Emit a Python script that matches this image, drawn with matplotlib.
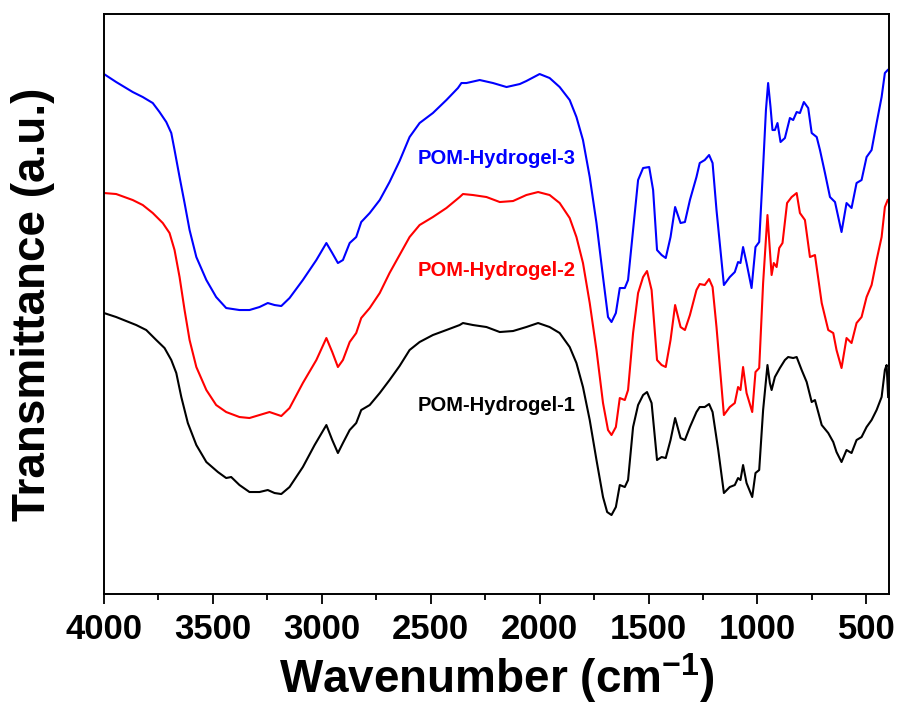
import numpy as np
import matplotlib
matplotlib.use("Agg")
from matplotlib import pyplot as plt
import matplotlib.ticker as ticker

plt.rcParams['font.family'] = ['Liberation Sans', 'DejaVu Sans']
plt.rcParams['font.weight'] = 'bold'
plt.rcParams['mathtext.fontset'] = 'custom'
plt.rcParams['mathtext.rm'] = 'Liberation Sans:bold'
plt.rcParams['mathtext.bf'] = 'Liberation Sans:bold'
plt.rcParams['mathtext.default'] = 'bf'

# POM-Hydrogel-3 (blue)
wn_3 = [4000, 3944, 3868, 3822, 3776, 3745, 3714, 3691, 3676, 3653, 3630, 3607, 3576, 3530,
        3485, 3439, 3378, 3332, 3286, 3248, 3217, 3186, 3148, 3087, 3025, 2979, 2952, 2926,
        2903, 2872, 2842, 2819, 2780, 2734, 2689, 2643, 2597, 2551, 2490, 2428, 2375, 2359,
        2336, 2275, 2214, 2152, 2091, 2061, 2000, 1954, 1908, 1862, 1831, 1801, 1770, 1739,
        1709, 1686, 1670, 1650, 1632, 1609, 1594, 1571, 1548, 1525, 1497, 1479, 1461, 1440,
        1421, 1399, 1378, 1353, 1333, 1310, 1280, 1265, 1242, 1222, 1206, 1188, 1154, 1127,
        1104, 1089, 1078, 1066, 1050, 1027, 1009, 992, 974, 961, 951, 940, 931, 920, 908,
        894, 874, 851, 836, 820, 805, 787, 767, 751, 728, 713, 690, 667, 644, 614, 591, 568,
        545, 522, 499, 476, 453, 430, 415, 402]
t_3 = [520, 512, 502, 497, 491, 482, 472, 461, 444, 417, 391, 364, 337, 314,
       297, 286, 284, 284, 287, 291, 289, 288, 296, 314, 334, 351, 341, 331,
       334, 351, 357, 372, 381, 394, 412, 433, 457, 471, 481, 494, 506, 511,
       511, 514, 511, 507, 510, 513, 520, 516, 507, 494, 477, 454, 417, 371,
       317, 277, 272, 281, 306, 306, 314, 364, 414, 426, 427, 404, 344, 339,
       336, 357, 387, 371, 372, 394, 417, 431, 434, 439, 431, 384, 309, 317,
       322, 332, 331, 347, 331, 306, 347, 352, 427, 484, 511, 487, 464, 464, 471,
       452, 456, 476, 474, 482, 481, 492, 486, 461, 457, 444, 421, 397, 392, 362, 391, 386,
       411, 414, 437, 444, 471, 497, 521, 524]

# POM-Hydrogel-2 (red)
wn_2 = [4000, 3944, 3868, 3822, 3776, 3730, 3699, 3676, 3653, 3630, 3607, 3576, 3530, 3485,
        3439, 3378, 3332, 3286, 3240, 3186, 3148, 3087, 3025, 2979, 2952, 2926, 2903, 2872,
        2842, 2819, 2780, 2734, 2689, 2643, 2597, 2551, 2490, 2428, 2367, 2352, 2306, 2244,
        2183, 2122, 2061, 2007, 1954, 1908, 1862, 1831, 1801, 1770, 1739, 1709, 1686, 1670,
        1650, 1632, 1609, 1594, 1571, 1548, 1525, 1507, 1486, 1461, 1440, 1421, 1399, 1378,
        1353, 1333, 1310, 1280, 1265, 1242, 1222, 1206, 1188, 1154, 1127, 1104, 1089, 1078,
        1066, 1050, 1024, 1009, 992, 974, 954, 943, 935, 925, 912, 900, 885, 864, 843, 820,
        805, 782, 759, 736, 705, 675, 652, 637, 614, 591, 568, 545, 522, 499, 476, 453, 430,
        415, 402]
t_2 = [401, 400, 394, 389, 381, 371, 361, 344, 317, 284, 254, 227, 204, 189,
       182, 177, 176, 179, 182, 178, 186, 211, 234, 256, 242, 227, 234, 252,
       261, 276, 286, 301, 321, 339, 357, 369, 377, 386, 397, 400, 399, 397,
       392, 393, 399, 402, 399, 391, 376, 357, 331, 291, 244, 191, 164, 159,
       167, 196, 194, 204, 261, 301, 317, 323, 304, 234, 229, 227, 254, 289,
       267, 264, 279, 304, 310, 309, 315, 307, 267, 179, 187, 191, 207, 204,
       227, 201, 182, 222, 226, 311, 379, 344, 319, 331, 327, 346, 351, 391, 397, 401,
       381, 374, 337, 339, 291, 264, 261, 244, 226, 256, 251, 271, 277, 297, 309, 334, 357,
       387, 394]

# POM-Hydrogel-1 (black)
wn_1 = [4000, 3944, 3898, 3852, 3806, 3760, 3722, 3691, 3668, 3645, 3615, 3576, 3530, 3477,
        3439, 3416, 3378, 3332, 3286, 3248, 3217, 3186, 3148, 3087, 3033, 2979, 2952, 2926,
        2903, 2872, 2842, 2819, 2780, 2734, 2689, 2643, 2597, 2551, 2490, 2428, 2367, 2352,
        2306, 2244, 2183, 2122, 2061, 2007, 1954, 1908, 1862, 1831, 1801, 1770, 1739, 1709,
        1690, 1670, 1650, 1632, 1609, 1594, 1571, 1548, 1525, 1507, 1486, 1461, 1440, 1421,
        1399, 1378, 1353, 1333, 1310, 1280, 1265, 1242, 1222, 1206, 1180, 1154, 1127, 1104,
        1089, 1078, 1066, 1050, 1024, 1009, 992, 974, 954, 943, 935, 920, 897, 874, 859, 836,
        820, 797, 774, 751, 736, 705, 675, 652, 637, 614, 591, 568, 545, 522, 499, 476, 453,
        430, 415, 407, 400]
t_1 = [281, 277, 273, 269, 264, 254, 246, 234, 221, 197, 171, 149, 132, 122,
       116, 117, 109, 102, 102, 104, 101, 100, 107, 127, 149, 169, 154, 141,
       151, 164, 171, 184, 189, 201, 214, 228, 244, 252, 259, 264, 269, 271,
       269, 267, 262, 263, 267, 271, 267, 261, 247, 231, 207, 174, 134, 97,
       82, 79, 87, 109, 107, 114, 167, 189, 199, 202, 191, 134, 137, 136,
       154, 176, 156, 154, 167, 182, 187, 187, 190, 182, 144, 101, 107, 109,
       116, 114, 129, 111, 97, 121, 124, 184, 229, 211, 204, 217, 226, 234, 237, 236,
       237, 224, 212, 192, 194, 169, 161, 152, 142, 132, 144, 141, 154, 157, 167, 174, 184,
       197, 224, 229, 197]

labels = ['POM-Hydrogel-1', 'POM-Hydrogel-2', 'POM-Hydrogel-3']
colors = ['black', '#ff0000', '#0000ff']
label_pos = [(2197, 189), (2197, 324), (2197, 436)]

fig = plt.figure(figsize=(9.01, 7.12), dpi=100)
ax = fig.add_axes([0.1154, 0.1657, 0.8713, 0.8146])

for x, y, c in zip([wn_1, wn_2, wn_3], [t_1, t_2, t_3], colors):
    ax.plot(x, y, color=c, lw=1.5)

for lab, c, (lx, ly) in zip(labels, colors, label_pos):
    ax.text(lx, ly, lab, color=c, fontsize=14.5, fontweight='bold', ha='center', va='center')

ax.set_xlim(4000, 396)
ax.set_ylim(0, 580)
ax.xaxis.set_major_locator(ticker.MultipleLocator(500))
ax.xaxis.set_minor_locator(ticker.MultipleLocator(250))
ax.tick_params(axis='x', which='major', length=7.5, width=1.3, labelsize=25, pad=6)
ax.tick_params(axis='x', which='minor', length=4, width=1.3)
ax.set_yticks([])
for s in ax.spines.values():
    s.set_linewidth(1.4)

ax.set_xlabel(r'Wavenumber (cm$^{-1}$)', fontsize=33, fontweight='bold', labelpad=4)
ax.set_ylabel('Transmittance (a.u.)', fontsize=33, fontweight='bold')
ax.yaxis.set_label_coords(-0.063, 0.5)

plt.savefig('out.png', dpi=100)
